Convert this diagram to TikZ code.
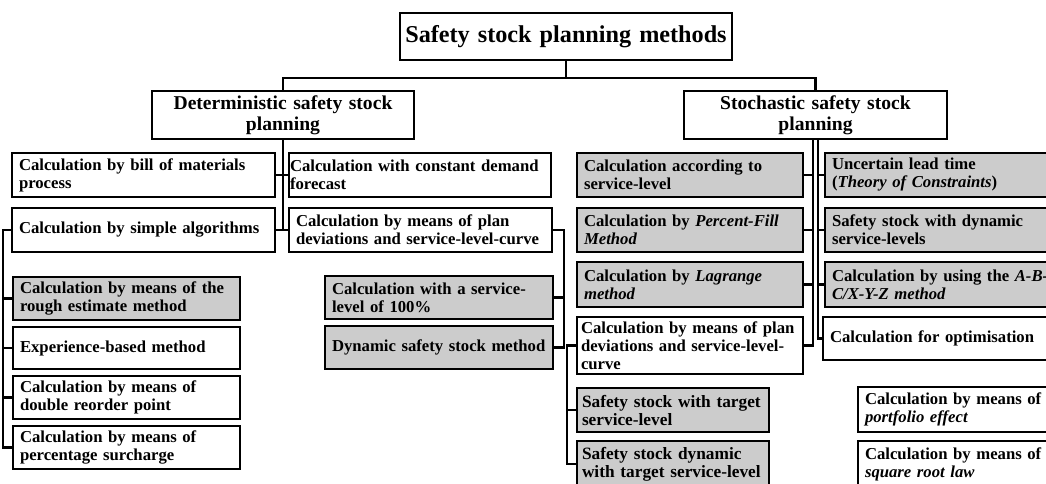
\documentclass[tikz,border=0pt]{standalone}
\usepackage{fontspec}
\setmainfont{Liberation Serif}
\usetikzlibrary{positioning}

\tikzset{
  methodbox/.style={draw, line width=2.3pt, align=left, inner xsep=7pt, inner ysep=0pt,
    font=\fontsize{16.7}{18}\selectfont\bfseries},
  greybox/.style={methodbox, fill=gray!40},
  headbox/.style={methodbox, align=center, font=\fontsize{19.6}{21}\selectfont\bfseries},
  link/.style={line width=2.3pt},
}

\begin{document}
\begin{tikzpicture}[x=1pt, y=-1pt]
  \useasboundingbox (0,0) rectangle (1046,483);

  % draw headings
  \node [headbox, inner xsep=4pt, text width=324pt, minimum height=47pt,
         font=\fontsize{24.2}{26}\selectfont\bfseries] (top) at (566,36.5) {Safety stock planning methods};
  \node [headbox, text width=248pt, minimum height=48pt] (det) at (283,115) {Deterministic safety stock\\planning};
  \node [headbox, text width=249pt, minimum height=48pt] (stoch) at (815.5,115) {Stochastic safety stock\\planning};

  % draw deterministic methods
  \node [methodbox, text width=249pt, minimum height=44pt] (bom) at (143.5,175) {Calculation by bill of materials\\process};
  \node [methodbox, inner xsep=1pt, text width=260pt, minimum height=44pt] (const) at (420,175) {Calculation with constant demand\\forecast};
  \node [methodbox, text width=249pt, minimum height=44pt] (simple) at (143.5,230) {Calculation by simple algorithms};
  \node [methodbox, text width=249pt, minimum height=44pt] (plandev) at (420.5,230) {Calculation by means of plan\\deviations and service-level-curve};

  \node [greybox, text width=213pt, minimum height=43pt] (rough) at (126.5,298.5) {Calculation by means of the\\rough estimate method};
  \node [methodbox, text width=213pt, minimum height=42pt] (exp) at (126.5,348) {Experience-based method};
  \node [methodbox, text width=213pt, minimum height=43pt] (double) at (126.5,397.5) {Calculation by means of\\double reorder point};
  \node [methodbox, text width=213pt, minimum height=43pt] (perc) at (126.5,447.5) {Calculation by means of\\percentage surcharge};

  \node [greybox, text width=214pt, minimum height=43pt] (hundred) at (439,297.5) {Calculation with a service-\\level of 100\%};
  \node [greybox, text width=214pt, minimum height=43pt] (dyn) at (439,347.5) {Dynamic safety stock method};

  % draw stochastic methods
  \node [greybox, text width=212pt, minimum height=44pt] (slevel) at (690,175) {Calculation according to\\service-level};
  \node [greybox, text width=212pt, minimum height=44pt] (pfill) at (690,230) {Calculation by \textit{Percent-Fill}\\\textit{Method}};
  \node [greybox, text width=212pt, minimum height=45pt] (lagr) at (690,284.5) {Calculation by \textit{Lagrange}\\\textit{method}};
  \node [methodbox, inner xsep=4pt, text width=218pt, minimum height=57pt] (splan) at (690,345.5) {Calculation by means of plan\\deviations and service-level-\\curve};

  \node [greybox, text width=221pt, minimum height=44pt] (lead) at (942.5,175) {Uncertain lead time\\(\textit{Theory of Constraints})};
  \node [greybox, text width=221pt, minimum height=44pt] (dynsl) at (942.5,230) {Safety stock with dynamic\\service-levels};
  \node [greybox, text width=221pt, minimum height=45pt] (abc) at (942.5,284.5) {Calculation by using the \textit{A-B-}\\\textit{C/X-Y-Z method}};
  \node [methodbox, text width=223pt, minimum height=43pt] (optim) at (941.5,338.5) {Calculation for optimisation};

  \node [greybox, inner xsep=5pt, text width=182pt, minimum height=44pt,
         font=\fontsize{17.3}{18}\selectfont\bfseries] (target) at (673,410) {Safety stock with target\\service-level};
  \node [greybox, inner xsep=5pt, text width=182pt, minimum height=46pt,
         font=\fontsize{17.3}{18}\selectfont\bfseries] (targetdyn) at (673,464) {Safety stock dynamic\\with target service-level};

  \node [methodbox, text width=188pt, minimum height=45pt] (portfolio) at (959,409.5) {Calculation by means of\\\textit{portfolio effect}};
  \node [methodbox, text width=188pt, minimum height=46pt] (sqroot) at (959,464) {Calculation by means of\\\textit{square root law}};

  % bus coordinates
  \coordinate (bus) at (566,78);
  \coordinate [left=8pt of simple.west] (simple-bus);
  \coordinate [right=11pt of plandev.east] (plandev-bus);
  \coordinate [left=9pt of splan.west] (splan-bus);
  \coordinate [left=2.5pt of stoch.south] (stoch-l);
  \coordinate [right=2.5pt of stoch.south] (stoch-r);

  % draw connectors
  \draw [link] (top.south) -- (bus);
  \draw [link] (det.north) |- (bus) -| (stoch.north);

  \draw [link] (det.south) -- (det.south |- simple.east);
  \draw [link] (bom.east) -- (const.west);
  \draw [link] (simple.east) -- (plandev.west);

  \draw [link] (simple.west) -- (simple-bus) |- (perc.west);
  \foreach \n in {rough, exp, double}
  \draw [link] (\n.west) -- (\n.west -| simple-bus);

  \draw [link] (plandev.east) -- (plandev-bus) |- (dyn.east);
  \draw [link] (hundred.east) -- (hundred.east -| plandev-bus);

  \draw [link] (stoch-l) |- (splan.east);
  \foreach \n in {slevel, pfill, lagr}
  \draw [link] (\n.east) -- (\n.east -| stoch-l);

  \draw [link] (stoch-r) |- (optim.west);
  \foreach \n in {lead, dynsl, abc}
  \draw [link] (\n.west) -- (\n.west -| stoch-r);

  \draw [link] (splan.west) -- (splan-bus) |- (targetdyn.west);
  \draw [link] (target.west) -- (target.west -| splan-bus);

\end{tikzpicture}
\end{document}
